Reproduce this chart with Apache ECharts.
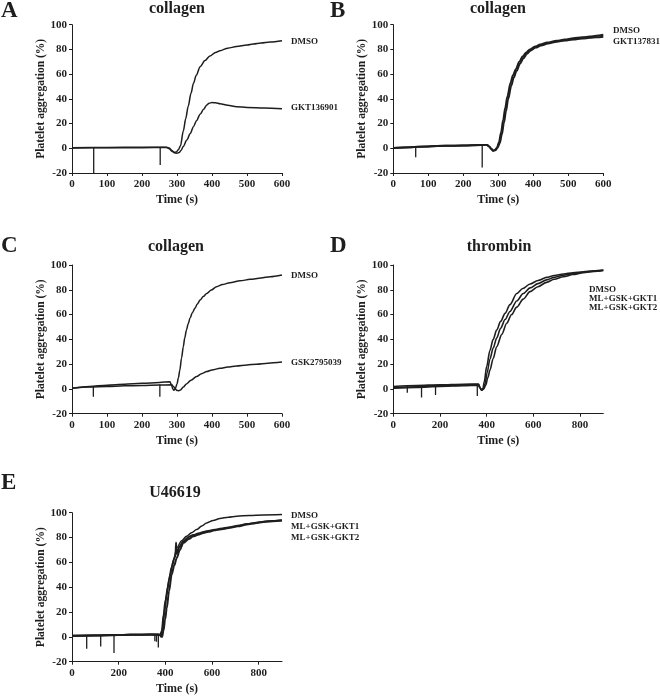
<!DOCTYPE html>
<html><head><meta charset="utf-8">
<script src="https://cdn.jsdelivr.net/npm/echarts@6.0.0/dist/echarts.min.js"></script>
<style>html,body{margin:0;padding:0;background:#fff}#c{width:660px;height:697px}</style>
</head><body><div id="c"></div><script>
// ---------- DATA ----------
const xTicksA = [0,100,200,300,400,500,600];
const yTicks = [-20,0,20,40,60,80,100];

// Panel A (collagen)
const A_DMSO = [[0,0.5],[100,0.7],[200,0.8],[270,0.9],[278,0.2],[285,-1.8],[292,-3.3],[298,-3],[304,-1.2],[310,2],[318,14],[325,24],[332,34],[340,44.5],[347,52.6],[355,59],[366,66],[380,71],[394,74.7],[410,77.5],[423,79],[445,81],[470,82.3],[500,83.6],[518,84.4],[540,85.2],[566,86],[600,87]];
const A_GKT136901 = [[0,0.3],[100,0.4],[200,0.5],[270,0.6],[278,-0.3],[286,-2.5],[294,-3.8],[300,-4],[306,-3.5],[312,-1.5],[318,1.5],[328,6.7],[338,12],[347,17.5],[356,22.5],[366,27.5],[376,31.5],[385,35],[392,36.5],[400,37],[410,36.8],[423,36],[445,34.8],[470,33.7],[500,33],[550,32.5],[600,32]];
const A_spikes = [[62,0.5,-20],[252,0.8,-13.5]];

// Panel B (collagen)
const B_DMSO = [[0,0.3],[50,0.8],[100,1.5],[150,2],[200,2.3],[250,2.6],[268,2.6],[274,1.5],[280,-0.5],[285,-2],[290,-1.5],[296,0.5],[302,5],[308,13],[314,23],[320,33],[326,42],[335,53],[342,59],[350,64],[360,70],[370,74.5],[380,77.5],[390,80],[405,82.3],[420,84],[440,85.5],[467,87],[490,88],[514,89],[540,89.8],[562,90.5],[580,91],[600,91.8]];
const B_GKT137831 = [[0,0.3],[50,0.8],[100,1.5],[150,2],[200,2.3],[250,2.6],[268,2.6],[274,1.5],[280,-0.5],[286,-2],[292,-1.5],[298,0.5],[304,4],[310,11],[316,20.5],[322,30],[328,39.5],[337,50.5],[344,57],[352,62.5],[362,68.5],[372,73],[382,76.5],[392,79],[407,81.5],[422,83.2],[442,84.8],[467,86.2],[490,87.2],[514,88],[540,88.8],[562,89.4],[580,89.8],[600,90.3]];
const B_spikes = [[64,1.2,-7.3],[254,2.6,-15.6]];

// Panel C (collagen)
const C_DMSO = [[0,0.5],[50,2],[100,3],[150,3.8],[200,4.5],[250,5.2],[280,5.8],[284,3.5],[288,0],[291,-1],[295,0],[300,4],[304,9],[308,15],[313,25],[318,34],[322,41],[327,47.5],[332,52.5],[337,57],[344,61.5],[351,65],[358,68.5],[366,71.7],[375,74.5],[385,77],[398,79.8],[413,82.5],[430,84.2],[451,85.7],[480,87.2],[509,88.4],[540,89.5],[566,90.6],[600,92]];
const C_GSK2795039 = [[0,0.5],[50,1.5],[100,2],[150,2.5],[200,2.8],[250,3.1],[285,3.3],[290,2],[295,0],[300,-1.2],[305,-1.4],[310,-0.8],[318,1.5],[327,4],[340,7],[356,10],[370,12.3],[385,14],[400,15.3],[423,16.6],[445,17.6],[470,18.5],[500,19.3],[527,20],[560,20.8],[600,21.7]];
const C_spikes = [[61,2,-6.3],[251,3.5,-6.3]];

// Panel D (thrombin)
const D_DMSO = [[0,2],[100,2.8],[200,3.3],[300,3.8],[365,4],[372,1],[378,-0.8],[384,0],[390,6],[400,18],[414,31],[428,40],[443,47.5],[460,54.5],[479,61],[500,68],[529,77],[555,81],[586,84.7],[620,87.5],[657,90],[690,91.5],[729,92.7],[770,93.8],[814,94.6],[860,95.4],[900,96]];
const D_GKT1 = [[0,1],[100,1.8],[200,2.5],[300,3],[365,3.5],[372,0.8],[379,-1],[386,0],[393,4],[402,13],[414,24],[428,33],[443,41],[460,49],[479,56],[500,62.5],[529,71],[557,77],[586,81.5],[620,85],[657,88],[690,90],[729,91.7],[770,93],[814,94.2],[860,95.1],[900,95.8]];
const D_GKT2 = [[0,0.5],[100,1.2],[200,2],[300,2.6],[365,3],[372,0.5],[380,-1],[388,0],[396,3],[405,9],[414,15],[428,24.5],[443,34],[465,44],[486,53],[507,60],[529,66],[557,72.5],[586,78.5],[620,82.5],[657,86],[690,88.5],[729,90.5],[770,92.3],[814,93.8],[860,94.8],[900,95.5]];
const D_spikes = [[60,2.5,-3],[121,2.8,-7],[181,3,-5],[360,3.8,-5.7]];

// Panel E (U46619)
const E_DMSO = [[0,1],[100,1.3],[200,1.7],[300,2],[370,2.2],[377,1.5],[384,5],[392,18],[399,28.6],[410,40],[420,50],[435,62],[449,71.6],[470,77.5],[491,81],[512,83.8],[534,86.4],[556,89.2],[577,91.8],[605,93.8],[634,95.3],[670,96.4],[706,97.2],[760,97.8],[820,98.2],[900,98.5]];
const E_GKT1 = [[0,0.8],[100,1.2],[200,1.5],[300,1.8],[375,2],[382,0],[388,6],[396,20],[405,33],[416,46],[427,56],[440,64],[444,66],[446,76],[448,67],[462,73],[477,77],[500,80.5],[520,82],[545,83.5],[563,84.5],[590,85.5],[620,86.5],[650,87.5],[677,88.3],[710,89.5],[749,90.8],[790,92],[820,92.8],[860,93.4],[900,94]];
const E_GKT2 = [[0,0.8],[100,1.2],[200,1.5],[300,1.8],[380,1.5],[386,0],[392,5],[399,14],[406,23],[416,37],[427,50],[438,57.5],[449,63.6],[462,70],[477,75.7],[500,78.8],[520,81],[540,82.3],[563,83.7],[585,84.6],[606,85.6],[640,86.7],[677,87.8],[710,89],[749,90.5],[785,91.6],[820,92.6],[860,93.2],[900,93.7]];
const E_spikes = [[63,1.2,-9.5],[123,1.4,-7.7],[180,1.6,-13],[355,2,-3.5],[362,2,-4],[370,2.2,-8.5]];

const titles = ['collagen','collagen','collagen','thrombin','U46619'];
const letters = ['A','B','C','D','E'];
const labelsA = ['DMSO','GKT136901'];
const labelsB = ['DMSO','GKT137831'];
const labelsC = ['DMSO','GSK2795039'];
const labelsD = ['DMSO','ML+GSK+GKT1','ML+GSK+GKT2'];
const labelsE = ['DMSO','ML+GSK+GKT1','ML+GSK+GKT2'];

// ---------- LAYOUT ----------
const FONT = '"Liberation Serif", "Times New Roman", serif';
const INK = '#1e1e1e';
const panels = [
  {grid:{left:72,top:24.7,width:210,height:148.3}, xMax:600, xInt:100, curves:[A_DMSO,A_GKT136901], lw:[1.5,1.5], spikes:A_spikes,
   title:[177,9], letter:[1,11], labels:labelsA, labelPos:[[291,42],[291,108]]},
  {grid:{left:393.3,top:24.7,width:210,height:148.3}, xMax:600, xInt:100, curves:[B_DMSO,B_GKT137831], lw:[2,2], spikes:B_spikes,
   title:[498,9], letter:[330,11], labels:labelsB, labelPos:[[613,31],[613,42]]},
  {grid:{left:72,top:265,width:210,height:148.7}, xMax:600, xInt:100, curves:[C_DMSO,C_GSK2795039], lw:[1.5,1.5], spikes:C_spikes,
   title:[176,247], letter:[1,246], labels:labelsC, labelPos:[[291,276],[291,363]]},
  {grid:{left:393.3,top:265,width:210,height:148.7}, xMax:900, xInt:200, curves:[D_DMSO,D_GKT1,D_GKT2], lw:[1.6,1.6,1.6], spikes:D_spikes,
   title:[499,247], letter:[330,246], labels:labelsD, labelPos:[[589,290],[589,298.7],[589,307.4]]},
  {grid:{left:72,top:512.7,width:210,height:149}, xMax:900, xInt:200, curves:[E_DMSO,E_GKT1,E_GKT2], lw:[1.5,2,2], spikes:E_spikes,
   title:[175,493], letter:[1,483], labels:labelsE, labelPos:[[291,516],[291,526.5],[291,537.5]]}
];

const grid=[], xAxis=[], yAxis=[], series=[], graphic=[];
panels.forEach((p,i)=>{
  grid.push(Object.assign({containLabel:false}, p.grid));
  const axisCommon = {
    axisLine:{show:true,onZero:false,lineStyle:{color:INK,width:1}},
    axisTick:{show:true,inside:false,length:3,lineStyle:{color:INK}},
    splitLine:{show:false},
    axisLabel:{color:INK,fontFamily:FONT,fontWeight:'bold',fontSize:11},
    nameTextStyle:{color:INK,fontFamily:FONT,fontWeight:'bold',fontSize:12}
  };
  xAxis.push(Object.assign({}, axisCommon, {
    type:'value', gridIndex:i, min:0, max:p.xMax, interval:p.xInt,
    name:'Time (s)', nameLocation:'middle', nameGap:21,
    axisLabel:Object.assign({}, axisCommon.axisLabel, {margin:6, showMaxLabel: p.xMax%p.xInt===0})
  }));
  yAxis.push(Object.assign({}, axisCommon, {
    type:'value', gridIndex:i, min:yTicks[0], max:yTicks[yTicks.length-1], interval:20,
    name:'Platelet aggregation (%)', nameLocation:'middle', nameGap:25,
    axisLabel:Object.assign({}, axisCommon.axisLabel, {margin:5}),
    nameTextStyle:Object.assign({}, axisCommon.nameTextStyle, {fontSize:11.5})
  }));
  p.curves.forEach((c,k)=>{
    series.push({type:'line', xAxisIndex:i, yAxisIndex:i, data:c, showSymbol:false, smooth:0.3, smoothMonotone:'x',
      lineStyle:{color:INK,width:p.lw[k]}, silent:true, animation:false});
  });
  p.spikes.forEach(s=>{
    series.push({type:'line', xAxisIndex:i, yAxisIndex:i, data:[[s[0],s[1]],[s[0],s[2]]], showSymbol:false,
      lineStyle:{color:INK,width:1.3}, silent:true, animation:false});
  });
  graphic.push({type:'text', x:p.title[0], y:p.title[1], style:{text:titles[i], fill:INK, font:'bold 16px '+FONT, textAlign:'center', textVerticalAlign:'middle'}});
  graphic.push({type:'text', x:p.letter[0], y:p.letter[1], style:{text:letters[i], fill:INK, font:'bold 23px '+FONT, textAlign:'left', textVerticalAlign:'middle'}});
  p.labels.forEach((t,k)=>{
    graphic.push({type:'text', x:p.labelPos[k][0], y:p.labelPos[k][1], style:{text:t, fill:INK, font:'bold 9px '+FONT, textAlign:'left', textVerticalAlign:'middle'}});
  });
});

const chart = echarts.init(document.getElementById('c'), null, {renderer:'canvas'});
chart.setOption({animation:false, backgroundColor:'#fff', grid, xAxis, yAxis, series, graphic});
</script></body></html>
